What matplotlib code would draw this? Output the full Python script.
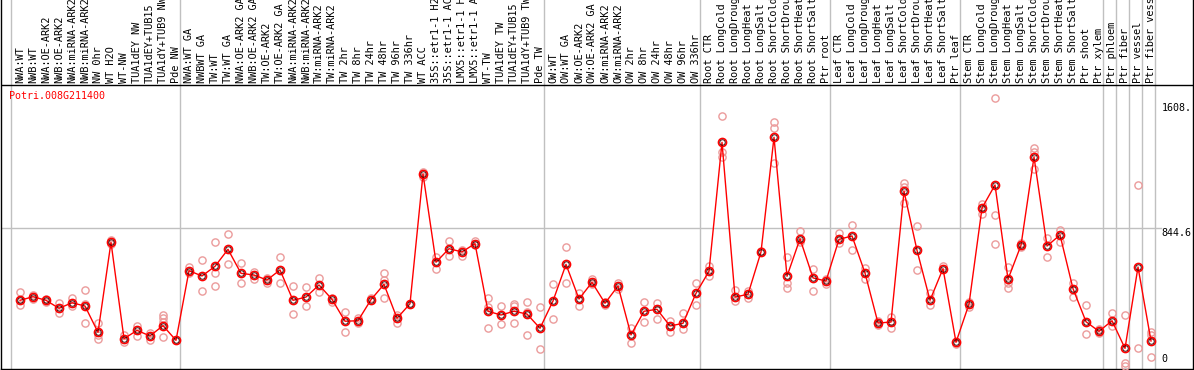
import matplotlib
matplotlib.use("Agg")
import matplotlib.pyplot as plt

gene = "Potri.008G211400"

labels = [
    "NWA:WT", "NWB:WT", "NWA:OE-ARK2", "NWB:OE-ARK2", "NWA:miRNA-ARK2", "NWB:miRNA-ARK2",
    "NW 0hr", "WT H2O", "WT-NW", "TUA1dEY NW", "TUA1dEY+TUB15", "TUA1dY+TUB9 NW", "Pde NW",
    "NWA:WT GA", "NWBWT GA", "TW:WT", "TW:WT GA", "NWA:OE-ARK2 GA", "NWB:OE-ARK2 GA",
    "TW:OE-ARK2", "TW:OE-ARK2 GA", "NWA:miRNA-ARK2", "NWB:miRNA-ARK2", "TW:miRNA-ARK2",
    "TW:miRNA-ARK2", "TW 2hr", "TW 8hr", "TW 24hr", "TW 48hr", "TW 96hr", "TW 336hr", "WT ACC",
    "35S::etr1-1 H2O", "35S::etr1-1 ACC", "LMX5::etr1-1 H2O", "LMX5::etr1-1 ACC", "WT-TW",
    "TUA1dEY TW", "TUA1dEY+TUB15 TW", "TUA1dY+TUB9 TW", "Pde TW",
    "OW:WT", "OW:WT GA", "OW:OE-ARK2", "OW:OE-ARK2 GA", "OW:miRNA-ARK2", "OW:miRNA-ARK2",
    "OW 2hr", "OW 8hr", "OW 24hr", "OW 48hr", "OW 96hr", "OW 336hr",
    "Root CTR", "Root LongCold", "Root LongDrought", "Root LongHeat", "Root LongSalt",
    "Root ShortCold", "Root ShortDrought", "Root ShortHeat", "Root ShortSalt", "Ptr root",
    "Leaf CTR", "Leaf LongCold", "Leaf LongDrought", "Leaf LongHeat", "Leaf LongSalt",
    "Leaf ShortCold", "Leaf ShortDrought", "Leaf ShortHeat", "Leaf ShortSalt", "Ptr leaf",
    "Stem CTR", "Stem LongCold", "Stem LongDrought", "Stem LongHeat", "Stem LongSalt",
    "Stem ShortCold", "Stem ShortDrought", "Stem ShortHeat", "Stem ShortSalt", "Ptr shoot",
    "Ptr xylem", "Ptr phloem", "Ptr fiber", "Ptr vessel", "Ptr fiber vessel",
]

group_sizes = [13, 28, 12, 10, 10, 11, 1, 1, 1, 1]

means = [
    402, 424, 402, 353, 387, 367, 206, 757, 167, 218, 184, 247, 157,
    583, 551, 610, 714, 567, 557, 526, 588, 402, 422, 496, 408, 274, 277, 406, 500,
    292, 381, 1175, 635, 718, 698, 749, 335, 312, 335, 318, 231,
    398, 622, 410, 512, 384, 490, 190, 335, 347, 245, 261, 445,
    580, 1369, 422, 439, 698, 1400, 549, 779, 539, 520,
    775, 796, 569, 263, 269, 1069, 708, 402, 596, 145,
    379, 967, 1108, 531, 739, 1279, 734, 802, 473, 271, 212,
    277, 108, 606, 153,
]

reps = [
    [451, 371, 404], [436, 412], [412, 394], [384, 323], [416, 369], [463, 261, 379],
    [261, 167, 190], [771, 745], [190, 147], [245, 185], [200, 159], [312, 292, 176, 271], [157],
    [604, 571], [647, 457], [757, 571, 488], [808, 622], [629, 506], [577, 532], [537, 510],
    [665, 506], [490, 318], [482, 365], [537, 455], [414, 394], [332, 210], [292, 261], [414],
    [567, 414, 526], [312, 265], [381], [1189, 1159], [669, 592], [765, 673], [710, 673],
    [767, 741], [414, 363, 231], [365, 257], [379, 261, 367], [390, 332, 190], [359, 102],
    [500, 286], [730, 506], [445, 369], [531, 502], [394, 373], [506, 469], [231, 139],
    [390, 271], [384, 286], [277, 210], [323, 225], [510, 371],
    [614, 553], [1528, 1308, 1281], [465, 400], [459, 418], [704], [1492, 1458, 1241],
    [665, 506, 479], [826, 761], [594, 459], [532, 500],
    [816, 751], [863, 710], [602, 531], [275, 251], [302, 231], [1118, 996, 1097],
    [857, 588], [445, 373], [614], [133],
    [394, 363], [990, 928], [1638, 924, 745], [608, 479, 506], [753, 730], [1336, 1206, 1308],
    [782, 669], [832, 761], [510, 424], [373, 194], [225, 200],
    [323, 247], [312, 17, 0], [1108, 108], [210, 53, 190],
]

y_ticks = [0, 844.6, 1608]
y_tick_labels = ["0", "844.6", "1608."]

mono = "DejaVu Sans Mono"

fig = plt.figure(figsize=(11.94, 3.70), dpi=100)
ax = fig.add_axes([1 / 1194, 1 / 370, 1192 / 1194, 369 / 370])

x = list(range(len(means)))
ax.set_xlim(-1.4615, 90.23)
ax.set_ylim(-18.4, 2240)
header_y = 1720

# group separators and grid
start = 0
ax.axvline(start - 0.69, color="#c0c0c0", lw=1, zorder=1)
for n in group_sizes:
    start += n
    ax.axvline(start - 0.69, color="#c0c0c0", lw=1, zorder=1)
ax.plot([-1.5, 87.8], [y_ticks[1], y_ticks[1]], color="#c0c0c0", lw=1, zorder=1)
ax.axhline(header_y, color="black", lw=1, zorder=2)

# replicates
for i, r in enumerate(reps):
    ax.plot([i] * len(r), r, "o", ms=5.2, mfc="none", mec="#eb9b9b", mew=1, zorder=3)

ax.plot(x, means, color="red", lw=1, zorder=4)
ax.plot(x, means, "o", ms=5.8, mfc="none", mec="red", mew=1.2, zorder=5)
ax.plot(x, means, "o", ms=3.9, mfc="none", mec="#300000", mew=0.6, zorder=6)

for i, lab in enumerate(labels):
    ax.text(i, header_y + 14, lab, rotation=90, ha="center", va="bottom",
            family=mono, fontsize=7.4, color="black")

ax.text(-0.85, 1680, gene, ha="left", va="top", family=mono, fontsize=7.2, color="red")

for v, t in zip(y_ticks, y_tick_labels):
    va = "bottom" if v == 0 else "top"
    yy = 12 if v == 0 else v
    ax.text(87.8, yy, t, ha="left", va=va, family=mono, fontsize=7.2, color="black")

ax.set_xticks([])
ax.set_yticks([])
ax.spines["top"].set_visible(False)
for s in ["left", "right", "bottom"]:
    ax.spines[s].set_color("black")
    ax.spines[s].set_linewidth(1)

fig.savefig("out.png", dpi=100)
